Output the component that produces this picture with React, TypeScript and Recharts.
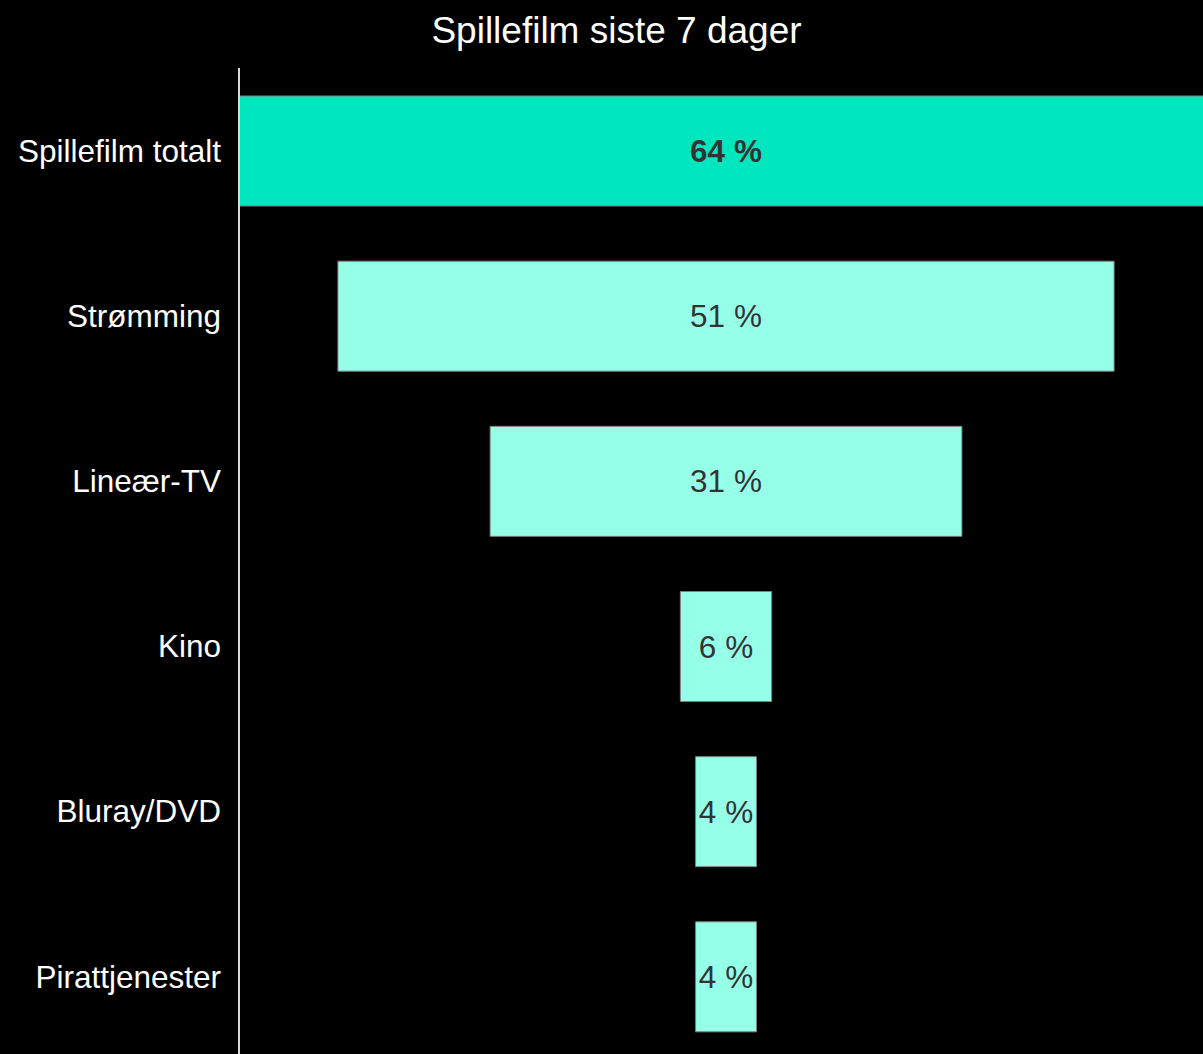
import { Bar, BarChart, Cell, LabelList, XAxis, YAxis } from 'recharts'

const categories = ['Spillefilm totalt', 'Strømming', 'Lineær-TV', 'Kino', 'Bluray/DVD', 'Pirattjenester']
const shares = [64, 51, 31, 6, 4, 4]

const maxShare = Math.max(...shares)
const data = categories.map((name, i) => ({
  name,
  offset: (maxShare - shares[i]) / 2,
  value: shares[i],
}))

const font = '"Liberation Sans", Arial, sans-serif'

function renderLabel(props: any) {
  const { x, y, width, height, value, index } = props
  return (
    <text
      x={x + width / 2}
      y={y + height / 2}
      textAnchor="middle"
      dominantBaseline="central"
      fill="#333333"
      fontSize={31.5}
      fontFamily={font}
      fontWeight={index === 0 ? 'bold' : 'normal'}
    >
      {value} %
    </text>
  )
}

export default function App() {
  return (
    <div
      style={{
        position: 'fixed',
        top: 0,
        left: 0,
        width: 1203,
        height: 1054,
        overflow: 'hidden',
        background: '#000000',
        fontFamily: font,
      }}
    >
      <div
        style={{
          position: 'absolute',
          top: 10,
          left: 0,
          width: 1233,
          textAlign: 'center',
          color: '#ffffff',
          fontSize: 37,
        }}
      >
        Spillefilm siste 7 dager
      </div>
      <BarChart
        width={1213}
        height={1059}
        data={data}
        layout="vertical"
        margin={{ top: 68, right: 0, bottom: 0, left: 0 }}
        barSize={110}
      >
        <XAxis type="number" domain={[0, maxShare]} hide />
        <YAxis
          type="category"
          dataKey="name"
          width={239}
          axisLine={{ stroke: '#d9d9d9', strokeWidth: 2 }}
          tickLine={false}
          tickSize={0}
          tickMargin={18}
          tick={{ fill: '#ffffff', fontSize: 31.5, fontFamily: font }}
        />
        <Bar dataKey="offset" stackId="f" fill="transparent" isAnimationActive={false} />
        <Bar dataKey="value" stackId="f" stroke="#7f7f7f" strokeWidth={1} isAnimationActive={false}>
          {data.map((d, i) => (
            <Cell key={d.name} fill={i === 0 ? '#00e6be' : '#96ffe8'} />
          ))}
          <LabelList dataKey="value" content={renderLabel} />
        </Bar>
      </BarChart>
    </div>
  )
}
